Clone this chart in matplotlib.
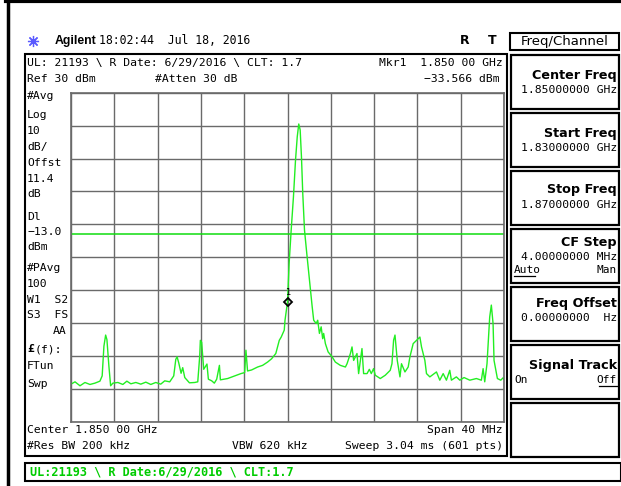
import numpy as np
import matplotlib
matplotlib.use('Agg')
import matplotlib.pyplot as plt
from matplotlib.patches import Rectangle
from matplotlib.lines import Line2D

# ---------------- data ----------------
freq_mhz = [1830.00, 1830.37, 1830.83, 1831.29, 1831.75, 1832.21, 1832.67, 1832.88, 1833.04, 1833.20,
            1833.32, 1833.50, 1833.66, 1833.87, 1834.33, 1834.79, 1835.16, 1835.53, 1835.99, 1836.45,
            1836.91, 1837.37, 1837.83, 1838.29, 1838.66, 1839.12, 1839.49, 1839.68, 1839.80, 1839.95,
            1840.17, 1840.32, 1840.51, 1840.94, 1841.43, 1841.71, 1841.89, 1841.95, 1842.07, 1842.26,
            1842.56, 1842.69, 1843.00, 1843.24, 1843.46, 1843.71, 1843.80, 1844.47, 1845.12, 1845.70,
            1846.04, 1846.16, 1846.31, 1846.68, 1847.24, 1847.70, 1848.16, 1848.53, 1848.92, 1849.24,
            1849.42, 1849.70, 1849.77, 1850.00, 1850.15, 1850.34, 1850.55, 1850.74, 1850.90, 1851.04,
            1851.17, 1851.29, 1851.41, 1851.57, 1851.78, 1852.03, 1852.28, 1852.42, 1852.65, 1852.79,
            1852.95, 1853.11, 1853.25, 1853.34, 1853.50, 1853.75, 1854.12, 1854.42, 1854.88, 1855.35,
            1855.50, 1855.81, 1855.96, 1856.11, 1856.42, 1856.57, 1856.73, 1856.88, 1857.03, 1857.35,
            1857.56, 1857.74, 1857.95, 1858.11, 1858.57, 1859.03, 1859.49, 1859.65, 1859.80, 1859.93,
            1860.14, 1860.39, 1860.53, 1860.85, 1861.15, 1861.31, 1861.61, 1861.92, 1862.23, 1862.38,
            1862.69, 1862.84, 1863.15, 1863.76, 1864.07, 1864.38, 1864.68, 1864.99, 1865.14, 1865.60,
            1865.92, 1866.31, 1866.84, 1867.45, 1867.91, 1868.07, 1868.22, 1868.43, 1868.68, 1868.83,
            1868.99, 1869.08, 1869.39, 1869.70, 1869.91, 1870.00]
power_dbm = [-58.5, -57.8, -59.0, -58.0, -58.6, -58.2, -57.6, -56.0, -47.0, -43.6,
             -45.0, -53.0, -59.0, -58.2, -58.0, -58.6, -57.6, -58.4, -58.0, -58.5,
             -57.9, -58.6, -58.0, -58.5, -57.5, -57.8, -56.0, -51.0, -50.2, -52.0,
             -55.2, -53.5, -56.5, -58.1, -58.0, -57.8, -50.0, -45.2, -45.8, -54.0,
             -52.4, -57.0, -57.5, -58.2, -57.0, -52.8, -57.2, -56.8, -56.0, -55.3,
             -55.0, -48.2, -54.5, -54.2, -53.3, -52.8, -51.8, -50.8, -49.2, -45.2,
             -44.2, -42.1, -39.1, -33.566, -21.9, -11.7, -1.6, 9.5, 16.6, 20.5,
             18.7, 10.5, -0.6, -11.7, -18.8, -26.9, -35.0, -39.1, -40.1, -39.1,
             -43.1, -41.1, -44.7, -43.1, -46.2, -48.7, -50.2, -51.8, -52.8, -53.3,
             -52.3, -49.2, -47.2, -51.3, -49.2, -55.3, -51.3, -47.7, -55.3, -55.3,
             -54.0, -55.3, -53.8, -55.8, -56.8, -55.8, -54.3, -52.3, -45.2, -43.6,
             -51.3, -56.3, -52.3, -54.8, -53.3, -50.2, -46.2, -45.2, -44.2, -47.2,
             -51.3, -55.3, -56.3, -54.8, -57.3, -55.3, -57.3, -54.3, -57.3, -56.3,
             -57.3, -56.5, -57.3, -56.8, -57.3, -53.8, -57.8, -52.3, -38.1, -34.5,
             -40.1, -51.3, -56.8, -57.3, -56.6, -57.0]

start_mhz, stop_mhz = 1830, 1870
ref_level_dbm, db_per_div = 30, 10
display_line_dbm = -13.0
marker_freq_mhz, marker_dbm = 1850.0, -33.566

left_labels = ['#Avg', 'Log', '10', 'dB/', 'Offst', '11.4', 'dB', 'Dl', '\u221213.0', 'dBm',
               '#PAvg', '100', 'W1  S2', 'S3  FS']
softkey_titles = ['Center Freq', 'Start Freq', 'Stop Freq', 'CF Step', 'Freq Offset', 'Signal Track', '']
softkey_values = ['1.85000000 GHz', '1.83000000 GHz', '1.87000000 GHz', '4.00000000 MHz',
                  '0.00000000  Hz', '', '']

# ---------------- figure ----------------
W, H = 621, 486
fig = plt.figure(figsize=(W / 100, H / 100), dpi=100)
fig.patch.set_facecolor('white')


def fx(x):
    return x / W


def fy(y):
    return 1 - y / H


MONO = 'DejaVu Sans Mono'


def txt(x, y, s, size=8.2, ha='left', family=MONO, weight='normal', color='black'):
    fig.text(fx(x), fy(y), s, ha=ha, va='center', fontsize=size, family=family,
             weight=weight, color=color)


def box(x0, y0, x1, y1, lw=1.3, color='black'):
    fig.add_artist(Rectangle((fx(x0), fy(y1)), fx(x1) - fx(x0), fy(y0) - fy(y1),
                             transform=fig.transFigure, fill=False, lw=lw, edgecolor=color))


def line(xs, ys, lw=1.0, color='black'):
    fig.add_artist(Line2D([fx(v) for v in xs], [fy(v) for v in ys],
                          transform=fig.transFigure, lw=lw, color=color))


# outer frame (top and left)
line([6, 621], [1.5, 1.5], lw=3)
line([7.5, 7.5], [0, 486], lw=2.5)

# header
fig.add_artist(Line2D([fx(33)], [fy(41)], transform=fig.transFigure, marker=(8, 2, 0),
                      ms=8, mew=0.9, color='#5a5aff'))
txt(55, 41, 'Agilent', size=8.8, family='Liberation Sans', weight='bold')
txt(99, 41, '18:02:44  Jul 18, 2016', size=8.3, family='DejaVu Sans Mono')
txt(460, 41, 'R', size=9, family='DejaVu Sans', weight='bold')
txt(488, 41, 'T', size=9, family='DejaVu Sans', weight='bold')

# Freq/Channel title box
box(510, 33, 619, 50, lw=1.5)
txt(564.5, 41.5, 'Freq/Channel', size=9.5, ha='center', family='DejaVu Sans')

# main display box
box(25, 54, 507, 456, lw=1.5)

txt(27, 63, 'UL: 21193 \\ R Date: 6/29/2016 \\ CLT: 1.7')
txt(503, 63, 'Mkr1  1.850 00 GHz', ha='right')
txt(27, 79, 'Ref 30 dBm')
txt(155, 79, '#Atten 30 dB')
txt(500, 79, '\u221233.566 dBm', ha='right')

label_y = [96, 115, 131, 147, 163, 179, 194, 217, 232, 247, 268, 284, 300, 315]
for s, y in zip(left_labels, label_y):
    txt(27, y, s)
txt(67, 331, 'AA', ha='right')
txt(27, 349, '\u00a3', weight='bold')
txt(35, 349, '(f):')
txt(27, 366, 'FTun')
txt(27, 384, 'Swp')

txt(27, 430, 'Center 1.850 00 GHz')
txt(503, 430, 'Span 40 MHz', ha='right')
txt(27, 446, '#Res BW 200 kHz')
txt(232, 446, 'VBW 620 kHz')
txt(503, 446, 'Sweep 3.04 ms (601 pts)', ha='right')

# status bar
box(25, 463, 621, 481, lw=1.5)
txt(30, 472, 'UL:21193 \\ R Date:6/29/2016 \\ CLT:1.7', size=8.6, weight='bold', color='#00cc00')

# softkeys
key_top = [55, 113, 171, 229, 287, 345, 403]
title_off = [20, 20, 19, 13, 16, 20, 0]
for title, value, top, off in zip(softkey_titles, softkey_values, key_top, title_off):
    box(511, top, 619, top + 54, lw=1.6)
    if title:
        txt(617, top + off, title, size=9.2, ha='right', family='DejaVu Sans', weight='bold')
    if value:
        txt(617, top + off + 15, value, size=8.2, ha='right')
# CF Step Auto/Man
txt(514, 229 + 41, 'Auto', size=8.0)
line([514, 535], [229 + 47, 229 + 47], lw=0.9)
txt(617, 229 + 41, 'Man', size=8.0, ha='right')
# Signal Track On/Off
txt(514, 345 + 35, 'On', size=8.0)
txt(617, 345 + 35, 'Off', size=8.0, ha='right')
line([599, 617], [345 + 41, 345 + 41], lw=0.9)

# ---------------- graticule / trace ----------------
ax = fig.add_axes([fx(71), fy(422), fx(504) - fx(71), fy(92.7) - fy(422)])
bottom = ref_level_dbm - 10 * db_per_div
ax.set_xlim(start_mhz, stop_mhz)
ax.set_ylim(bottom, ref_level_dbm)
ax.set_xticks(np.linspace(start_mhz, stop_mhz, 11))
ax.set_yticks(np.arange(bottom, ref_level_dbm + 1, db_per_div))
ax.grid(True, color='#6a6a6a', lw=1.0)
ax.tick_params(length=0, labelbottom=False, labelleft=False)
for sp in ax.spines.values():
    sp.set_color('#6a6a6a')
    sp.set_linewidth(1.2)

ax.axhline(display_line_dbm, color='#10dd10', lw=1.1)
ax.plot(freq_mhz, power_dbm, color='#22ee22', lw=1.0)
ax.plot([marker_freq_mhz], [marker_dbm], marker='D', ms=4.5, mfc='none', mec='black', mew=1.3)
ax.annotate('1', (marker_freq_mhz, marker_dbm), xytext=(0, 7), textcoords='offset points',
            ha='center', va='center', fontsize=6)

fig.savefig('out.png', dpi=100)
